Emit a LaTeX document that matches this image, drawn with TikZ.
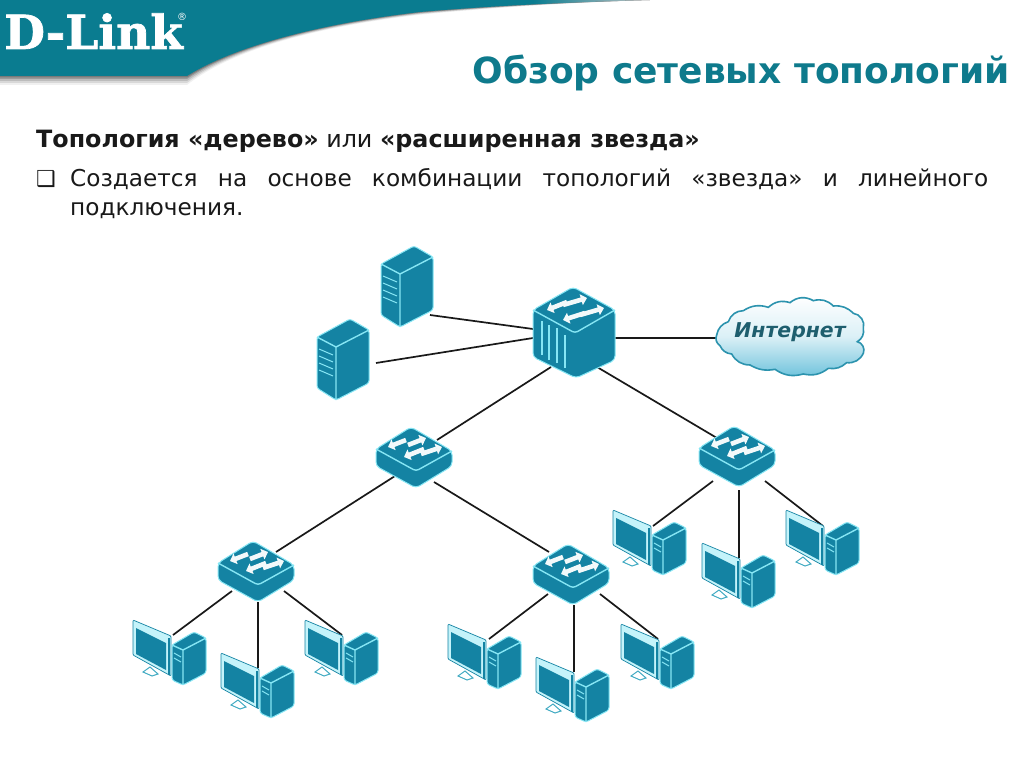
\documentclass[tikz,border=0pt]{standalone}
\usepackage{fontspec}
\setmainfont{DejaVu Sans}
\newfontfamily\logofont[BoldFeatures={FakeBold=1.5}]{DejaVu Serif}
\usetikzlibrary{arrows.meta}
\definecolor{icon}{HTML}{1483A3}
\definecolor{edgeline}{HTML}{86E6F4}
\definecolor{frameline}{HTML}{C4F3FA}
\definecolor{banner}{HTML}{0A7C90}
\definecolor{titlecol}{HTML}{0E7A8C}
\definecolor{cloudedge}{HTML}{2C93AE}
\definecolor{cloudlow}{HTML}{6FC3DC}
\definecolor{cloudtext}{HTML}{1E5E6E}
\definecolor{tailgrey}{HTML}{C4C4C4}
\pgfdeclarehorizontalshading{bannershade}{100bp}{color(0bp)=(banner); color(66bp)=(banner); color(75bp)=(tailgrey); color(100bp)=(tailgrey)}
\tikzset{
  body/.style={fill=icon,draw=edgeline,line width=1pt,rounded corners=2.5pt,line join=round},
  ridge/.style={draw=edgeline,line width=1.4pt},
  whitearrow/.style={draw=white!95!icon,line width=4.6pt,-{Triangle[length=6pt,width=11pt]}},
  link/.style={draw=black!90,line width=1.7pt},
  txt/.style={inner sep=0pt,anchor=base west,text=black!90},
  pcicon/.pic={
    \path[fill=frameline,draw=icon,line width=0.7pt,rounded corners=1pt] (0,0)--(38,16)--(38,56)--(0,35)--cycle;
    \path[fill=icon] (3,8)--(33,23)--(33,50)--(3,34)--cycle;
    \draw[icon,line width=2pt] (36,18)--(36,55);
    \path[draw=icon!60!edgeline,fill=white,line width=1pt] (10,52)--(17,47)--(25,54)--(19,56)--cycle;
    \path[body] (61,12)--(73,18)--(73,53)--(50,65)--(39,60)--(39,25)--cycle;
    \draw[ridge] (39,25)--(50,30)--(73,18) (50,30)--(50,65);
    \draw[edgeline,line width=1pt] (41,33)--(48,37) (41,38)--(48,42);
  },
  servericon/.pic={
    \path[body] (0,0)--(19,11)--(19,64)--(-14,81)--(-33,69)--(-33,18)--cycle;
    \draw[ridge] (-33,18)--(-14,28)--(19,11) (-14,28)--(-14,81);
    \foreach \k in {0,7,14,21}
      \draw[edgeline,line width=1pt] (-31,30+\k)--(-17,36+\k);
  },
  smallswitch/.pic={
    \path[body,rounded corners=4pt] (0,0)--(41,24)--(41,39)--(5,61)--(-35,39)--(-35,22)--cycle;
    \draw[ridge,rounded corners=3pt] (-35,22)--(5,44)--(41,24);
    \draw[whitearrow] (-5,13)--(-23,20);
    \draw[whitearrow] (-3,18)--(15,11);
    \draw[whitearrow] (13,22)--(-7,30);
    \draw[whitearrow] (10,27)--(31,20);
  },
  bigswitch/.pic={
    \path[body,rounded corners=4pt] (0,0)--(42,23)--(42,73)--(3,91)--(-40,70)--(-40,23)--cycle;
    \draw[ridge,rounded corners=3pt] (-40,23)--(2,46)--(42,23);
    \draw[ridge] (-31,34)--(-31,68) (-24,38)--(-24,73) (-16,41)--(-16,76) (-8,48)--(-8,81);
    \draw[whitearrow] (-6,15)--(-26,23);
    \draw[whitearrow] (-10,18)--(14,11);
    \draw[whitearrow] (12,26)--(-10,33);
    \draw[whitearrow] (7,28)--(31,21);
  },
}
\begin{document}
\begin{tikzpicture}[x=1pt,y=-1pt]
\useasboundingbox (0,0) rectangle (1024,767);
\fill[white] (0,0) rectangle (1024,767);
% banner shadow
\foreach \d/\o in {9/0.08,7/0.14,5/0.2,3/0.3,1.5/0.4}
  \fill[black!70,opacity=\o] (0,0) -- (0,76+\d) -- (187,76+\d) .. controls (225,52+\d*0.3) and (300,26+\d*0.3) .. (420,12+\d*0.3) .. controls (500,5+\d*0.2) and (580,2) .. (650,0) -- cycle;
\path[shading=bannershade] (0,0) -- (0,76) -- (187,76) .. controls (225,52) and (300,26) .. (420,12) .. controls (500,5) and (580,2) .. (650,0) -- cycle;
\node[inner sep=0pt,anchor=base west,text=white] (logo) at (4,49) {\logofont\bfseries\fontsize{47}{47}\selectfont D-Link};
\node[inner sep=0pt,text=white] (reg) at (182,17) {\fontsize{10}{10}\selectfont ®};
% texts
\node[inner sep=0pt,anchor=base east,text=titlecol] (title) at (1010,84) {\bfseries\fontsize{36}{36}\selectfont Обзор сетевых топологий};
\node[txt] (sub) at (36,148) {\fontsize{23.8}{24}\selectfont\textbf{Топология «дерево»} или \textbf{«расширенная звезда»}};
\node[txt] (bul) at (36,187) {\fontsize{22}{22}\selectfont\bfseries ❑};
\node[txt] (l1) at (70,187) {\fontsize{23.2}{24}\selectfont\makebox[918pt][s]{Создается на основе комбинации топологий «звезда» и линейного}};
\node[txt] (l2) at (70,215) {\fontsize{23.2}{24}\selectfont подключения.};
% connector ends
\coordinate (coreA) at (533,329); \coordinate (srvA) at (430,315);
\coordinate (coreB) at (533,338); \coordinate (srvB) at (376,363);
\coordinate (coreE) at (615,338); \coordinate (cloudW) at (718,338);
\coordinate (coreL) at (551,367); \coordinate (swLtop) at (437,440);
\coordinate (coreR) at (597,367); \coordinate (swRtop) at (722,441);
\coordinate (swLa) at (395,476); \coordinate (sw1top) at (276,552);
\coordinate (swLb) at (434,482); \coordinate (sw4top) at (549,552);
\coordinate (sw1a) at (232,591); \coordinate (pc1) at (173,635);
\coordinate (sw1b) at (258,602); \coordinate (pc2) at (258,668);
\coordinate (sw1c) at (284,591); \coordinate (pc3) at (342,635);
\coordinate (sw4a) at (548,594); \coordinate (pc4) at (489,639);
\coordinate (sw4b) at (574,605); \coordinate (pc5) at (574,672);
\coordinate (sw4c) at (600,594); \coordinate (pc6) at (658,639);
\coordinate (swRa) at (713,481); \coordinate (pc7) at (653,526);
\coordinate (swRb) at (739,490); \coordinate (pc8) at (739,558);
\coordinate (swRc) at (765,481); \coordinate (pc9) at (823,526);
\foreach \a/\b in {coreA/srvA,coreB/srvB,coreE/cloudW,coreL/swLtop,coreR/swRtop,swLa/sw1top,swLb/sw4top,sw1a/pc1,sw1b/pc2,sw1c/pc3,sw4a/pc4,sw4b/pc5,sw4c/pc6,swRa/pc7,swRb/pc8,swRc/pc9}
  \draw[link] (\a)--(\b);
% cloud
\begin{scope}[shift={(700,280)},x=0.3333pt,y=-0.3333pt]
\path[draw=cloudedge,line width=1.6pt,top color=white,bottom color=cloudlow,middle color=white!75!cloudlow]
  (50,165) to[bend left=30] (85,125) to[bend left=35] (130,92) to[bend left=25] (205,82) to[bend left=30] (270,68)
  to[bend left=35] (340,62) to[bend left=30] (400,78) to[bend left=25] (460,100) to[bend left=50] (490,145)
  to[bend left=35] (472,185) to[bend left=50] (490,220) to[bend left=35] (440,248) to[bend left=25] (385,265)
  to[bend left=25] (310,282) to[bend left=25] (225,268) to[bend left=20] (150,255) to[bend left=30] (95,222)
  to[bend left=30] (60,197) to[bend left=40] (50,165) -- cycle;
\end{scope}
\node[inner sep=0pt,text=cloudtext] (inet) at (790,332) {\bfseries\itshape\fontsize{20.4}{20.4}\selectfont Интернет};
% icons
\pic at (414,246) {servericon};
\pic at (350,319) {servericon};
\pic at (573,287) {bigswitch};
\pic at (411,427) {smallswitch};
\pic at (734,426) {smallswitch};
\pic at (253,541) {smallswitch};
\pic at (568,544) {smallswitch};
\pic at (133,620) {pcicon};
\pic at (221,653) {pcicon};
\pic at (305,620) {pcicon};
\pic at (448,624) {pcicon};
\pic at (536,657) {pcicon};
\pic at (621,624) {pcicon};
\pic at (613,510) {pcicon};
\pic at (702,543) {pcicon};
\pic at (786,510) {pcicon};
\end{tikzpicture}
\end{document}
